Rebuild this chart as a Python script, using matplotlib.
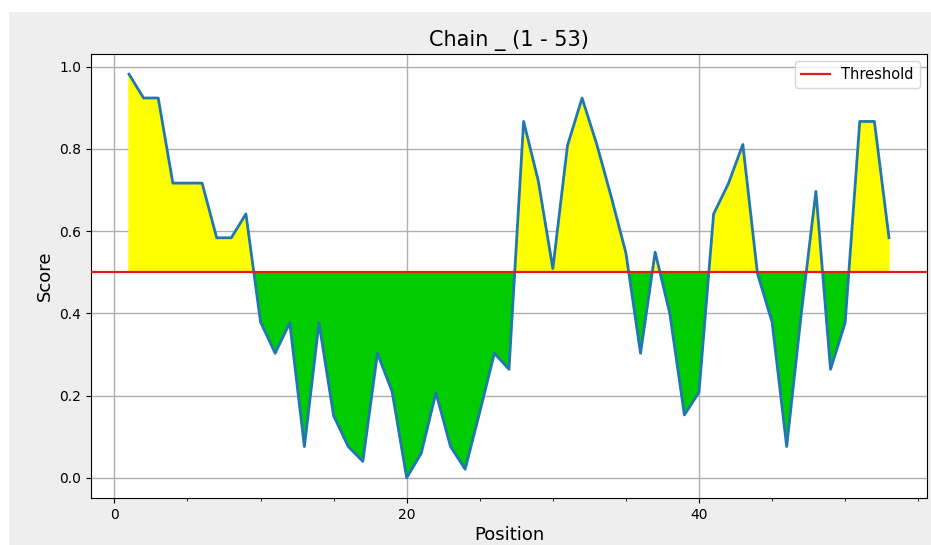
import numpy as np
import matplotlib
matplotlib.use("Agg")
import matplotlib.pyplot as plt
from matplotlib.patches import Rectangle
from matplotlib.ticker import MultipleLocator

# per-residue scores
positions = list(range(1, 54))
scores = [
    0.982, 0.924, 0.924, 0.717, 0.717, 0.717, 0.584, 0.584, 0.642, 0.379,
    0.303, 0.377, 0.076, 0.377, 0.151, 0.076, 0.040, 0.303, 0.210, 0.000,
    0.060, 0.207, 0.076, 0.021, 0.160, 0.303, 0.264, 0.867, 0.723, 0.509,
    0.808, 0.924, 0.812, 0.683, 0.547, 0.303, 0.549, 0.400, 0.153, 0.208,
    0.642, 0.715, 0.811, 0.497, 0.379, 0.076, 0.400, 0.697, 0.264, 0.377,
    0.867, 0.867, 0.584,
]
threshold = 0.5
title = "Chain _ (1 - 53)"

x = np.array(positions)
y = np.array(scores)

fig = plt.figure(figsize=(9.31, 5.45), dpi=100, facecolor="#eeeeee")
# white margin strips seen at the top and left of the screenshot
fig.patches.append(Rectangle((0, 1 - 12 / 545), 1, 12 / 545, transform=fig.transFigure,
                             facecolor="white", edgecolor="none", zorder=0))
fig.patches.append(Rectangle((0, 0), 9 / 931, 1, transform=fig.transFigure,
                             facecolor="white", edgecolor="none", zorder=0))

ax = fig.add_axes([91 / 931, 1 - 498 / 545, 836 / 931, 444 / 545])

ax.fill_between(x, y, threshold, where=y >= threshold, interpolate=True,
                color="#ffff00", zorder=2)
ax.fill_between(x, y, threshold, where=y <= threshold, interpolate=True,
                color="#00cc00", zorder=2)
ax.plot(x, y, color="#1f77b4", linewidth=2, zorder=3)
ax.axhline(threshold, color="#e41a1c", linewidth=1.6, label="Threshold", zorder=4)

ax.xaxis.set_major_locator(MultipleLocator(20))
ax.xaxis.set_minor_locator(MultipleLocator(5))
ax.yaxis.set_major_locator(MultipleLocator(0.2))
ax.grid(True, which="major", color="#b0b0b0", linewidth=1, zorder=1)
ax.set_axisbelow(True)

ax.set_title(title, fontsize=15)
ax.set_xlabel("Position", fontsize=13, labelpad=3)
ax.set_ylabel("Score", fontsize=13)
ax.legend(loc="upper right", fontsize=10.5)

fig.savefig("out.png", dpi=100, facecolor=fig.get_facecolor())
